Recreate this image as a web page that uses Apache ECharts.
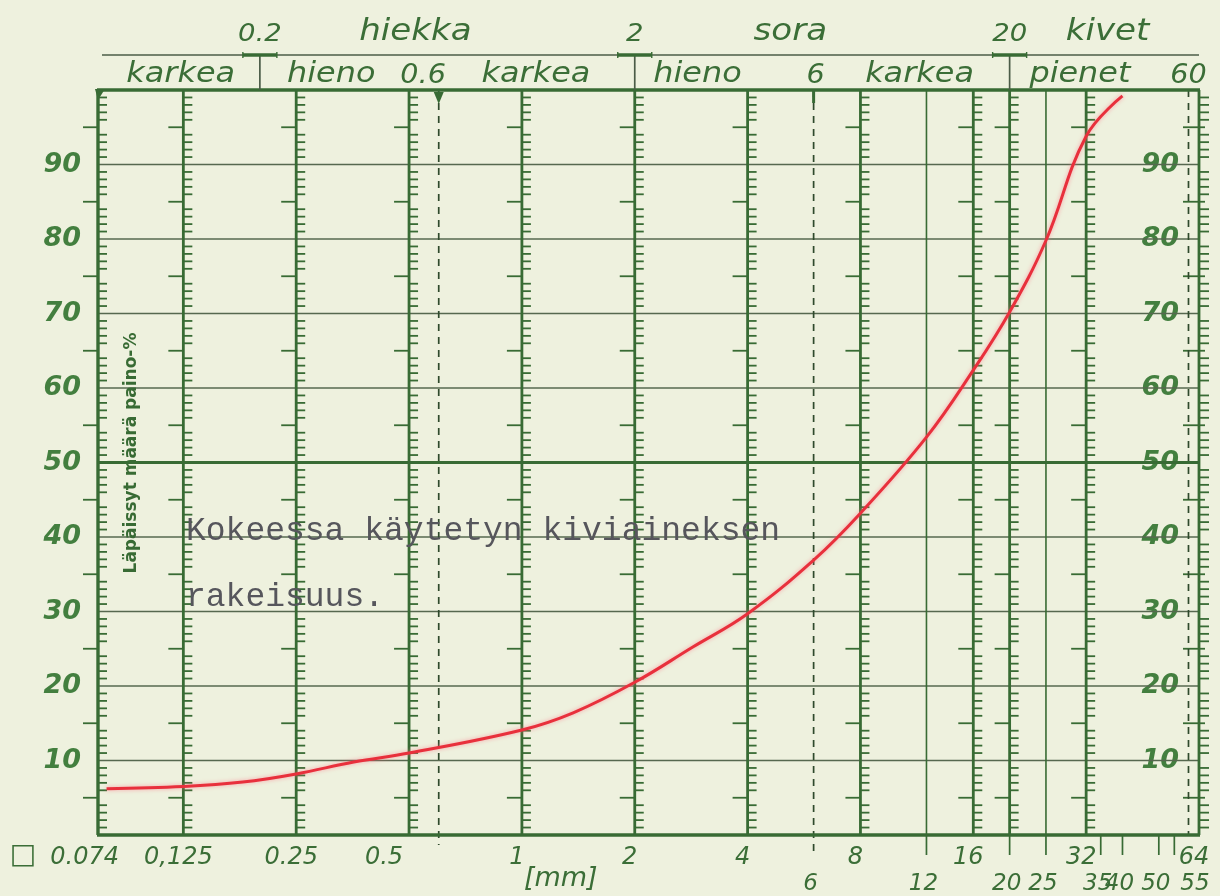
<!DOCTYPE html>
<html>
<head>
<meta charset="utf-8">
<script src="https://cdn.jsdelivr.net/npm/echarts@6/dist/echarts.min.js"></script>
<style>
  html, body { margin: 0; padding: 0; background: #eef1de; }
  #chart { width: 1220px; height: 896px; }
</style>
</head>
<body>
<div id="chart"></div>
<script>
// Grading curve of the aggregate: grain size [mm] vs. passing weight-%
const grainSize = [0.078, 0.125, 0.18, 0.25, 0.356, 0.5, 1, 1.37, 2, 2.85, 4, 6, 8, 12, 16, 20, 25, 32, 40];
const passing   = [6.2, 6.5, 7.1, 8.2, 9.8, 11.0, 14.1, 16.4, 20.5, 25.2, 29.7, 36.9, 43.2, 53.4, 62.4, 70.2, 79.8, 93.8, 99.2];

// Sieve scale
const X_MIN = 0.074;
const X_MAX = 64;
const ladderSizes = [0.074, 0.125, 0.25, 0.5, 1, 2, 4, 8, 16, 20, 32];
const plainLines = [12, 25];
const dashedLines = [0.6, 6, 60];
const belowTicks = [12, 20, 25, 35, 40, 50, 55];
const percentLines = [10, 20, 30, 40, 50, 60, 70, 80, 90];

// Tick labels under the chart
const sieveLabels = ['0.074', '0,125', '0.25', '0.5', '1', '2', '4', '8', '16', '32', '64'];
const sieveLabelSizes = [0.074, 0.125, 0.25, 0.5, 1, 2, 4, 8, 16, 32, 64];
const lowerLabels = ['6', '12', '20', '25', '35', '40', '50', '55'];
const lowerLabelSizes = [6, 12, 20, 25, 35, 40, 50, 55];
const unitLabel = ['[mm]'];
const unitAnchor = [1.27];
const meshMark = ['□'];
const meshAnchor = [0.074];

// Soil classes above the chart
const classBounds = [0.2, 2, 20];
const classNames = ['0.2', 'hiekka', '2', 'sora', '20', 'kivet'];
const classAnchors = [0.2, 0.52, 2, 5.2, 20, 36.5];
const subclassNames = ['karkea', 'hieno', '0.6', 'karkea', 'hieno', '6', 'karkea', 'pienet', '60'];
const subclassAnchors = [0.123, 0.31, 0.545, 1.09, 2.94, 6.07, 11.5, 30.8, 60];

const PAPER = '#eef1de';
const INK = '#386b34';
const LETTER = '#437f3f';
const HEAD = '#3b6e37';
const FAINT = '#56684f';
const RED = '#e8303c';
const HAND = 'DejaVu Sans';

function seg(x1, y1, x2, y2, color, width, dash) {
  const style = { stroke: color, lineWidth: width };
  if (dash) style.lineDash = dash;
  return { type: 'line', shape: { x1, y1, x2, y2 }, style };
}

function labelSeries(values, texts, cfg) {
  return {
    type: 'custom', silent: true, z: 6,
    data: values.map(v => [v, 0]),
    renderItem(params, api) {
      const i = params.dataIndex;
      const v = api.value(0);
      const bottom = api.coord([v, 0]);
      const top = api.coord([v, 100]);
      const y = cfg.fromTop ? top[1] + cfg.dy : bottom[1] + cfg.dy;
      const place = cfg.place ? cfg.place(texts[i]) : { align: 'center', dx: 0 };
      const size = typeof cfg.size === 'function' ? cfg.size(texts[i]) : cfg.size;
      return {
        type: 'text', x: bottom[0] + place.dx, y: y, scaleX: cfg.scaleX || 1,
        style: {
          text: texts[i], fill: cfg.color || LETTER, fontSize: size, fontStyle: 'italic',
          fontWeight: cfg.weight || 'normal',
          fontFamily: HAND, align: place.align, verticalAlign: cfg.vAlign || 'middle'
        }
      };
    }
  };
}

const series = [];

// horizontal percent lines
series.push({
  type: 'custom', silent: true, z: 2,
  data: percentLines.map(p => [X_MIN, p]),
  renderItem(params, api) {
    const p = api.value(1);
    const a = api.coord([X_MIN, p]), b = api.coord([X_MAX, p]);
    return p === 50 ? seg(a[0], a[1], b[0], b[1], INK, 2.8) : seg(a[0], a[1], b[0], b[1], FAINT, 1.3);
  }
});

// sieve lines with percent ladders
series.push({
  type: 'custom', silent: true, z: 3,
  data: ladderSizes.map(s => [s, 0]),
  renderItem(params, api) {
    const s = api.value(0);
    const top = api.coord([s, 100]), bot = api.coord([s, 0]);
    const x = top[0];
    const kids = [seg(x, top[1], x, bot[1], INK, s === X_MIN ? 3.4 : 2.8)];
    for (let p = 1; p < 100; p++) {
      if (p % 10 === 0) continue;
      const y = api.coord([s, p])[1];
      kids.push(p % 5 === 0 ? seg(x - 15, y, x, y, INK, 1.8) : seg(x, y, x + 9, y, INK, 1.8));
    }
    if (s === X_MIN) {
      kids.push({ type: 'polygon', shape: { points: [[x - 3, top[1] - 1], [x + 7, top[1] - 1], [x, top[1] + 10]] }, style: { fill: INK } });
    }
    return { type: 'group', children: kids };
  }
});

// right edge with outward ladder
series.push({
  type: 'custom', silent: true, z: 3,
  data: [[X_MAX, 0]],
  renderItem(params, api) {
    const top = api.coord([X_MAX, 100]), bot = api.coord([X_MAX, 0]);
    const x = top[0];
    const kids = [seg(x, top[1], x, bot[1], INK, 2.8)];
    for (let p = 1; p < 100; p++) {
      if (p % 10 === 0) continue;
      const y = api.coord([X_MAX, p])[1];
      kids.push(p % 5 === 0 ? seg(x - 16, y, x + 6, y, INK, 1.8) : seg(x, y, x + 10, y, INK, 1.8));
    }
    return { type: 'group', children: kids };
  }
});

// plain sieve lines
series.push({
  type: 'custom', silent: true, z: 3,
  data: plainLines.map(s => [s, 0]),
  renderItem(params, api) {
    const s = api.value(0);
    const top = api.coord([s, 100]), bot = api.coord([s, 0]);
    return seg(top[0], top[1], bot[0], bot[1], INK, 1.6);
  }
});

// fraction limits drawn dashed
series.push({
  type: 'custom', silent: true, z: 3,
  data: dashedLines.map(s => [s, 0]),
  renderItem(params, api) {
    const s = api.value(0);
    const i = params.dataIndex;
    const top = api.coord([s, 100]), bot = api.coord([s, 0]);
    const x = top[0];
    const ext = i === 0 ? 10 : (i === 1 ? 22 : 0);
    const kids = [seg(x, top[1], x, bot[1] + ext, '#2f4a2c', 1.7, [7, 6])];
    if (i === 0) {
      kids.push({ type: 'polygon', shape: { points: [[x - 5, top[1] + 2], [x + 5, top[1] + 2], [x, top[1] + 14]] }, style: { fill: INK } });
    } else if (i === 1) {
      kids.push(seg(x, top[1], x, top[1] + 13, INK, 3));
    }
    return { type: 'group', children: kids };
  }
});

// short ticks under the base line
series.push({
  type: 'custom', silent: true, z: 3,
  data: belowTicks.map(s => [s, 0]),
  renderItem(params, api) {
    const b = api.coord([api.value(0), 0]);
    return seg(b[0], b[1], b[0], b[1] + 20, INK, 1.7);
  }
});

// frame top and bottom
series.push({
  type: 'custom', silent: true, z: 4,
  data: [[X_MIN, 0], [X_MIN, 100]],
  renderItem(params, api) {
    const p = api.value(1);
    const a = api.coord([X_MIN, p]), b = api.coord([X_MAX, p]);
    return seg(a[0] - 1, a[1], b[0] + 1, b[1], INK, 3.6);
  }
});

// class header: rule and dividers
series.push({
  type: 'custom', silent: true, z: 4,
  data: [[X_MIN, 100]],
  renderItem(params, api) {
    const a = api.coord([X_MIN, 100]), b = api.coord([X_MAX, 100]);
    return seg(a[0] + 4, a[1] - 35, b[0], b[1] - 35, '#4b5c47', 1.7);
  }
});
series.push({
  type: 'custom', silent: true, z: 4,
  data: classBounds.map(s => [s, 100]),
  renderItem(params, api) {
    const t = api.coord([api.value(0), 100]);
    const x = t[0], y = t[1] - 35;
    return {
      type: 'group', children: [
        seg(x, y, x, t[1], '#4b5c47', 1.7),
        seg(x - 17, y, x + 17, y, INK, 3.4),
        seg(x - 17, y - 3, x - 17, y + 3, INK, 1.4),
        seg(x + 17, y - 3, x + 17, y + 3, INK, 1.4)
      ]
    };
  }
});

// header lettering
series.push(labelSeries(classAnchors, classNames, {
  fromTop: true, dy: -43, vAlign: 'bottom', scaleX: 1.1, color: HEAD,
  size: t => /\d/.test(t) ? 25 : 31
}));
series.push(labelSeries(subclassAnchors, subclassNames, {
  fromTop: true, dy: -1, vAlign: 'bottom', scaleX: 1.1, color: HEAD,
  size: t => /\d/.test(t) ? 26 : 29
}));

// sieve labels under the chart
series.push(labelSeries(sieveLabelSizes, sieveLabels, {
  dy: 23, size: 24, color: HEAD,
  place: t => t === '0.074' ? { align: 'right', dx: 21 } : (t === '0.5' ? { align: 'right', dx: -6 } : { align: 'center', dx: -5 })
}));
series.push(labelSeries(meshAnchor, meshMark, {
  dy: 21, size: 28, color: HEAD, place: () => ({ align: 'center', dx: -75 })
}));
series.push(labelSeries(lowerLabelSizes, lowerLabels, {
  dy: 49, size: 23, color: HEAD,
  place: t => t === '55' ? { align: 'left', dx: 6 } : { align: 'center', dx: -3 }
}));
series.push(labelSeries(unitAnchor, unitLabel, {
  dy: 44, size: 27, color: HEAD, place: () => ({ align: 'center', dx: 0 })
}));

// the grading curve
series.push({
  type: 'line', name: 'Läpäisy', z: 10,
  data: grainSize.map((g, i) => [g, passing[i]]),
  smooth: 0.4, symbol: 'none',
  lineStyle: { color: RED, width: 3, shadowColor: 'rgba(255,110,130,0.6)', shadowBlur: 4 }
});

const yLabelStyle = {
  color: LETTER, fontSize: 27, fontStyle: 'italic', fontWeight: 'bold', fontFamily: HAND,
  formatter: v => (v > 0 && v < 100) ? String(v) : ''
};

const chart = echarts.init(document.getElementById('chart'), null, { renderer: 'canvas' });
chart.setOption({
  backgroundColor: PAPER,
  animation: false,
  grid: { left: 98, right: 21, top: 90, bottom: 61 },
  title: {
    text: 'Kokeessa käytetyn kiviaineksen\nrakeisuus.',
    left: 181, top: 493,
    textStyle: { fontFamily: 'Liberation Mono', fontSize: 33, fontWeight: 'normal', color: '#56565c', lineHeight: 66 }
  },
  xAxis: {
    type: 'log', logBase: 2, min: X_MIN, max: X_MAX,
    axisLine: { show: false }, axisTick: { show: false }, axisLabel: { show: false }, splitLine: { show: false }
  },
  yAxis: [
    {
      type: 'value', min: 0, max: 100, interval: 10,
      axisLine: { show: false }, axisTick: { show: false }, splitLine: { show: false },
      axisLabel: Object.assign({ margin: 17 }, yLabelStyle)
    },
    {
      type: 'value', position: 'right', min: 0, max: 100, interval: 10,
      axisLine: { show: false }, axisTick: { show: false }, splitLine: { show: false },
      axisLabel: Object.assign({ inside: true, margin: 17, backgroundColor: PAPER, padding: [0, 3, 0, 4] }, yLabelStyle)
    }
  ],
  graphic: [{
    type: 'text', x: 132, y: 453, rotation: Math.PI / 2, z: 20,
    style: {
      text: 'Läpäissyt määrä paino-%', fill: INK, font: 'bold 17px "DejaVu Sans"',
      align: 'center', verticalAlign: 'middle', textAlign: 'center', textVerticalAlign: 'middle'
    }
  }],
  series: series
});
</script>
</body>
</html>
